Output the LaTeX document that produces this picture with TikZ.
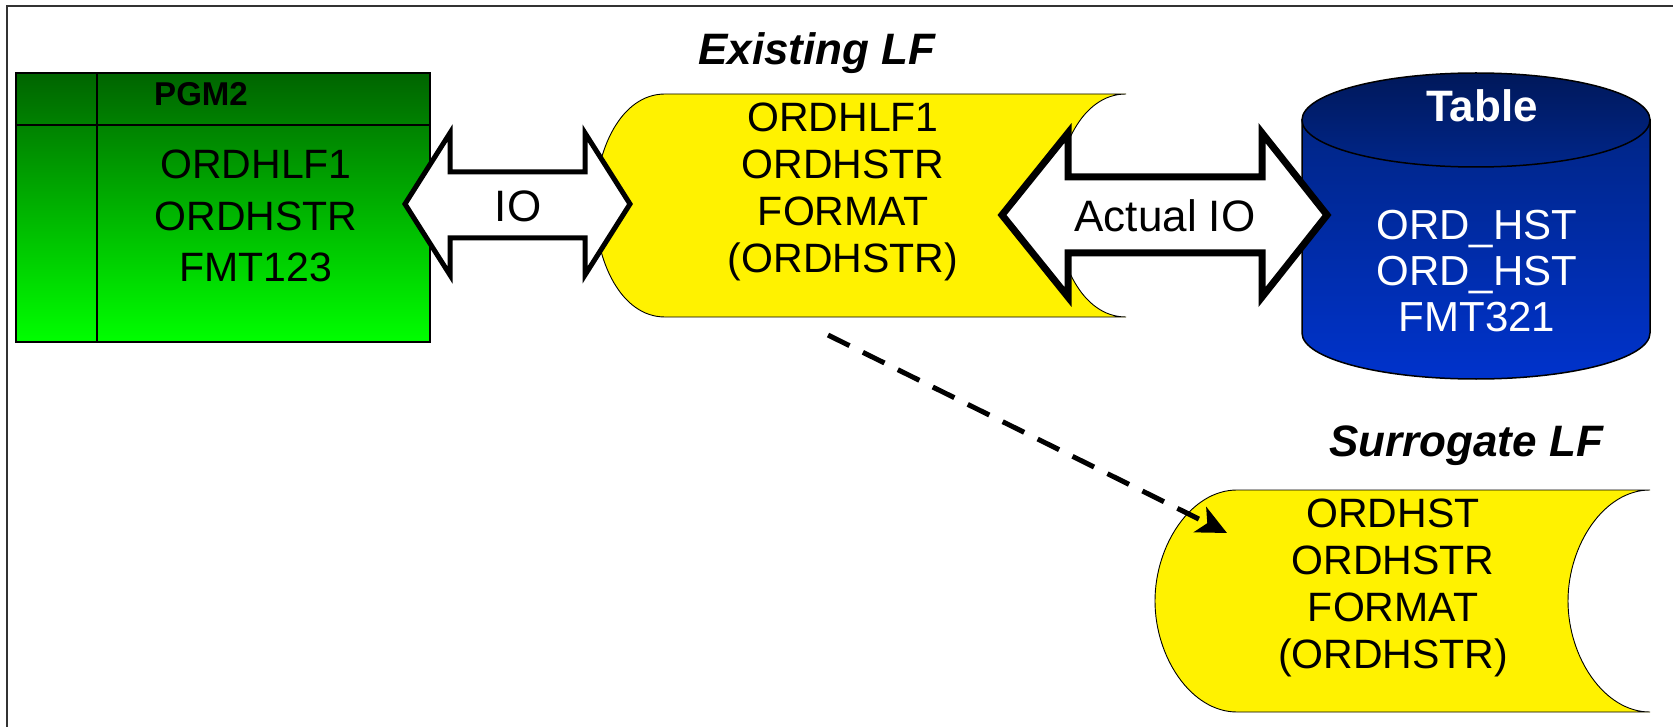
\documentclass[tikz,border=0pt]{standalone}
\usepackage{fontspec}
\setmainfont{Liberation Sans}
\usetikzlibrary{arrows.meta}
\newcommand{\mlines}[1]{\begin{tabular}[t]{@{}c@{}}#1\end{tabular}}
\definecolor{greentop}{HTML}{006400}
\definecolor{greenbot}{HTML}{00FF00}
\definecolor{cyltop1}{HTML}{00185A}
\definecolor{cyltop2}{HTML}{00268A}
\definecolor{cylbody1}{HTML}{002585}
\definecolor{cylbody2}{HTML}{0033CC}
\definecolor{framegray}{HTML}{333333}
\begin{document}
\begin{tikzpicture}[x=1pt,y=-1pt,
  lfshape/.style={fill=yellow, draw=black, line width=0.9pt},
  blockarrow/.style={fill=white, draw=black, line join=miter, miter limit=10},
  body41/.style={font=\fontsize{41}{47}\selectfont, inner sep=0pt, anchor=base},
  label44/.style={font=\fontsize{44}{50}\selectfont, inner sep=0pt, anchor=base},
  titletxt/.style={font=\fontsize{44}{50}\selectfont\bfseries\itshape, inner sep=0pt, anchor=base},
  connector/.style={line width=5pt, dash pattern=on 24pt off 15pt, -{Stealth[length=30pt,width=28pt,inset=8pt]}}
]
\useasboundingbox (0,0) rectangle (1673,727);
% frame
\draw[line width=2.5pt, framegray] (7,760) -- (7,6) -- (1700,6);

% titles
\node[titletxt] (existtitle) at (817,65) {Existing LF};
\node[titletxt] (surrtitle) at (1466,456) {Surrogate LF};

% PGM2 green box
\shade[top color=greentop, bottom color=greenbot] (16,73) rectangle (430,342);
\draw[line width=1.8pt] (16,73) rectangle (430,342);
\draw[line width=1.5pt] (97,73) -- (97,342);
\draw[line width=1.5pt] (16,125) -- (430,125);
\node[font=\fontsize{33}{38}\selectfont\bfseries, inner sep=0pt, anchor=base] (pgmhead) at (201,106) {PGM2};
\node[font=\fontsize{41}{51.5}\selectfont, inner sep=0pt, anchor=base] (pgmtext) at (256,179) {\mlines{ORDHLF1\\ORDHSTR\\FMT123}};

% Existing LF shape
\path[lfshape] (665,94) -- (1126,94)
  .. controls (1082,94) and (1056,150) .. (1056,205.5)
  .. controls (1056,261) and (1082,317) .. (1126,317)
  -- (665,317)
  .. controls (621,317) and (595,261) .. (595,205.5)
  .. controls (595,150) and (621,94) .. (665,94) -- cycle;
\node[body41] (lf1text) at (843,132) {\mlines{ORDHLF1\\ORDHSTR\\FORMAT\\(ORDHSTR)}};

% Table cylinder
\shade[top color=cylbody1, bottom color=cylbody2, draw=black, line width=1.5pt]
  (1302,120) -- (1302,333)
  .. controls (1302,358.4) and (1379.9,379) .. (1476,379)
  .. controls (1572.1,379) and (1650,358.4) .. (1650,333)
  -- (1650,120) -- cycle;
\shade[top color=cyltop1, bottom color=cyltop2, draw=black, line width=1.5pt]
  (1476,120) ellipse [x radius=174pt, y radius=47pt];
\node[font=\fontsize{44}{50}\selectfont\bfseries, text=white, inner sep=0pt, anchor=base] (tablehead) at (1482,122) {Table};
\node[font=\fontsize{42}{46}\selectfont, text=white, inner sep=0pt, anchor=base] (tabletext) at (1477,240) {\mlines{ORD\_HST\\ORD\_HST\\FMT321}};

% Surrogate LF shape
\path[lfshape] (1237,490) -- (1650,490)
  .. controls (1604,490) and (1568,545) .. (1568,601)
  .. controls (1568,657) and (1604,712) .. (1650,712)
  -- (1237,712)
  .. controls (1191,712) and (1155,657) .. (1155,601)
  .. controls (1155,545) and (1191,490) .. (1237,490) -- cycle;
\node[body41] (slftext) at (1393,527) {\mlines{ORDHST\\ORDHSTR\\FORMAT\\(ORDHSTR)}};

% IO block arrow
\path[blockarrow, line width=5pt] (405,204) -- (450,133) -- (450,172) -- (585,172) -- (585,133)
  -- (630,204) -- (585,275) -- (585,238) -- (450,238) -- (450,275) -- cycle;
\node[label44] (iolabel) at (518,222) {IO};

% Actual IO block arrow
\path[blockarrow, line width=7pt] (1002,215) -- (1068,133) -- (1068,177) -- (1262,177) -- (1262,133)
  -- (1327,215) -- (1262,297) -- (1262,253) -- (1068,253) -- (1068,297) -- cycle;
\node[label44] (actlabel) at (1165,232) {Actual IO};

% dashed connector
\coordinate (lfout) at (828,335);
\coordinate (slfin) at (1227,533);
\draw[connector] (lfout) -- (slfin);
\end{tikzpicture}
\end{document}
